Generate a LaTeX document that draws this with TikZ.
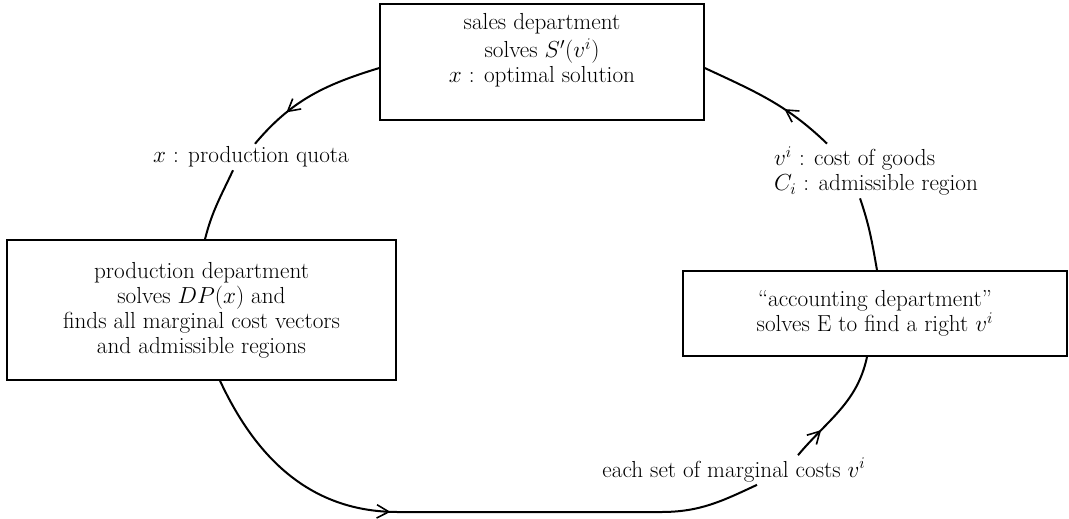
\RequirePackage{fix-cm}
\documentclass[tikz,border=0pt]{standalone}
\usepackage{fontspec}
\usetikzlibrary{arrows.meta,decorations.markings,calc}

\begin{document}
\begin{tikzpicture}
[   x=0.75pt,y=-0.75pt,
    font=\fontsize{17.4}{18.8}\selectfont,
    dept/.style={draw=black,line width=1.1pt,align=center,inner sep=0pt},
    lbl/.style={inner sep=2pt},
    flow/.style={line width=1.5pt},
    midarrow/.style={postaction={decorate},decoration={markings,
        mark=at position #1 with {\arrow{Straight Barb[length=9pt,width=10pt,line width=1.2pt]}}}},
]
    \useasboundingbox (0,0) rectangle (1069,518);

    % the three departments
    \node[dept,minimum width=243pt,minimum height=87pt] (sales) at (542,62)
        {sales department\\[2pt] solves $S'(v^i)$\\ $x$ : optimal solution\\[2pt]\mbox{}};
    \node[dept,minimum width=291.75pt,minimum height=105pt] (prod) at (201.5,310)
        {production department\\ solves $DP(x)$ and\\ finds all marginal cost vectors\\ and admissible regions};
    \node[dept,minimum width=288pt,minimum height=64pt] (acct) at (875,313.5)
        {``accounting department''\\ solves E to find a right $v^i$};

    % what is passed on
    \node[lbl] (quota) at (251,157) {$x$ : production quota};
    \node[lbl,align=left] (cost) at (876,171) {$v^i$ : cost of goods\\ $C_i$ : admissible region};
    \node[lbl] (marg) at (734,470) {each set of marginal costs $v^i$};

    \coordinate (bot1) at (398,512);
    \coordinate (bot2) at (661,512);

    \draw[flow,midarrow=0.7] ($(sales.west)+(0,6)$) to[out=197,in=50] ($(quota.north)+(4,0)$);
    \draw[flow] ($(quota.south)+(-18,0)$) to[out=-115,in=76] ($(prod.north)+(3.5,0)$);
    \draw[flow,midarrow=0.38] ($(prod.south)+(18.5,0)$) to[out=-65,in=180] (bot1) -- (bot2)
        to[out=0,in=-155] ($(marg.south)+(23,0)$);
    \draw[flow,midarrow=0.28] ($(marg.north)+(64,0)$) to[out=50,in=-102] ($(acct.south)+(-8,0)$);
    \draw[flow] ($(acct.north)+(2,0)$) to[out=100,in=-71] ($(cost.south)+(-16,0)$);
    \draw[flow,midarrow=0.38] ($(cost.north)+(-49,0)$) to[out=136,in=-25] ($(sales.east)+(0,6)$);
\end{tikzpicture}
\end{document}
